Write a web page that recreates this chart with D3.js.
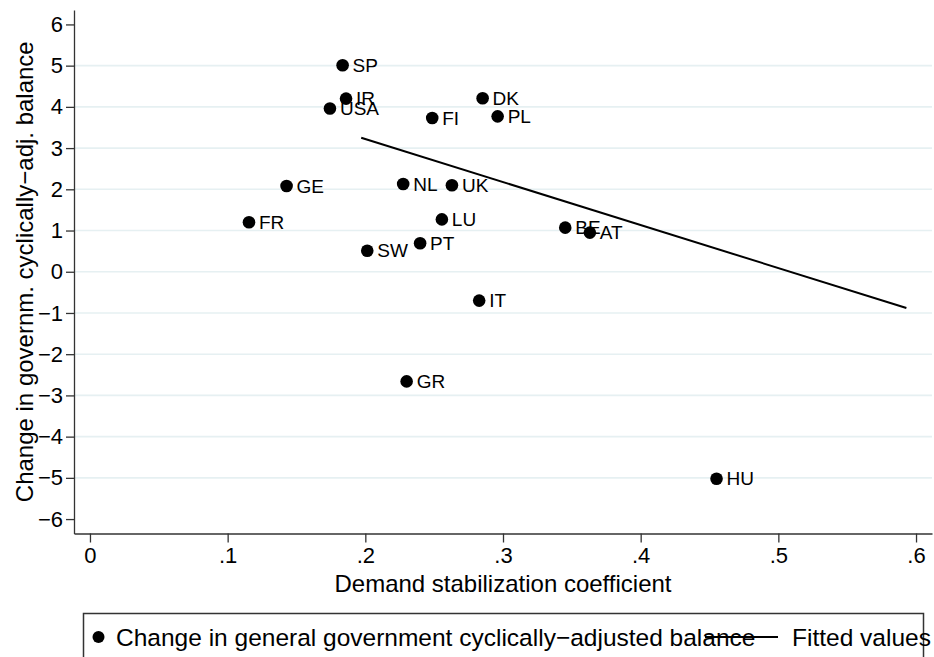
<!DOCTYPE html>
<html>
<head>
<meta charset="utf-8">
<script src="https://cdn.jsdelivr.net/npm/d3@7"></script>
<style>
  body { margin: 0; background: #fff; }
  text { font-family: "Liberation Sans", Arial, sans-serif; fill: #000; }
</style>
</head>
<body>
<div id="chart"></div>
<script>
// countries and their values
let countries = ["SP", "IR", "USA", "FI", "DK", "PL", "GE", "NL", "UK", "FR", "LU", "BE", "AT", "SW", "PT", "IT", "GR", "HU"]
let stabCoef = [0.1835, 0.186, 0.1743, 0.2486, 0.2852, 0.2961, 0.1428, 0.2275, 0.2629, 0.1155, 0.2556, 0.3452, 0.3631, 0.2014, 0.2398, 0.2827, 0.230, 0.4551]
let balance = [5.01, 4.20, 3.96, 3.73, 4.21, 3.77, 2.08, 2.13, 2.10, 1.20, 1.27, 1.07, 0.95, 0.51, 0.69, -0.70, -2.66, -5.02]

// fitted line ends
let fitX = [0.197, 0.593]
let fitY = [3.25, -0.88]

let xTicks = [0, 0.1, 0.2, 0.3, 0.4, 0.5, 0.6]
let yTicks = [-6, -5, -4, -3, -2, -1, 0, 1, 2, 3, 4, 5, 6]
let gridVals = [-5, -4, -3, -2, -1, 0, 1, 2, 3, 4, 5]

let data = countries.map((c, i) => ({ name: c, x: stabCoef[i], y: balance[i] }))
let fit = fitX.map((v, i) => ({ x: v, y: fitY[i] }))

let svgW = 934
let svgH = 657

let x = d3.scaleLinear()
  .domain([-0.0116, 0.6116])
  .range([74, 932])

let y = d3.scaleLinear()
  .domain([-6.35, 6.35])
  .range([533.5, 10])

let svg = d3.select("#chart")
  .append("svg")
  .attr("width", svgW)
  .attr("height", svgH)

// grid
svg.append("g")
  .selectAll("line")
  .data(gridVals)
  .enter()
  .append("line")
  .attr("x1", x.range()[0])
  .attr("x2", x.range()[1])
  .attr("y1", d => y(d))
  .attr("y2", d => y(d))
  .attr("stroke", "#e6f0f2")
  .attr("stroke-width", 1.6)

let xAxis = d3.axisBottom(x)
  .tickValues(xTicks)
  .tickSize(9)
  .tickSizeOuter(0)
  .tickPadding(5)
  .tickFormat(d => d === 0 ? "0" : d3.format(".1f")(d).replace(/^0/, ""))

let yAxis = d3.axisLeft(y)
  .tickValues(yTicks)
  .tickSize(8)
  .tickSizeOuter(0)
  .tickPadding(3)
  .tickFormat(d3.format("d"))

svg.append("g")
  .attr("class", "x axis")
  .attr("transform", `translate(0, ${y.range()[0]})`)
  .call(xAxis)

svg.append("g")
  .attr("class", "y axis")
  .attr("transform", `translate(${x.range()[0]}, 0)`)
  .call(yAxis)

svg.selectAll(".axis path, .axis line")
  .attr("stroke", "#333")
  .attr("stroke-width", 1.3)
svg.selectAll(".axis text")
  .attr("font-family", "Liberation Sans, Arial, sans-serif")
  .attr("font-size", 22)
  .attr("fill", "#000")

// axis titles
svg.append("text")
  .attr("x", (x.range()[0] + x.range()[1]) / 2)
  .attr("y", 592)
  .attr("text-anchor", "middle")
  .attr("font-size", 24)
  .text("Demand stabilization coefficient")

svg.append("text")
  .attr("transform", `translate(33, ${(y.range()[0] + y.range()[1]) / 2}) rotate(-90)`)
  .attr("text-anchor", "middle")
  .attr("font-size", 24)
  .text("Change in governm. cyclically\u2212adj. balance")

// fitted line
let line = d3.line()
  .x(d => x(d.x))
  .y(d => y(d.y))

svg.append("path")
  .datum(fit)
  .attr("d", line)
  .attr("fill", "none")
  .attr("stroke", "#000")
  .attr("stroke-width", 2)

// points
svg.append("g")
  .selectAll("circle")
  .data(data)
  .enter()
  .append("circle")
  .attr("cx", d => x(d.x))
  .attr("cy", d => y(d.y))
  .attr("r", 6.3)
  .attr("fill", "#000")

svg.append("g")
  .selectAll("text")
  .data(data)
  .enter()
  .append("text")
  .attr("x", d => x(d.x) + 10)
  .attr("y", d => y(d.y))
  .attr("dy", "0.35em")
  .attr("font-size", 19)
  .text(d => d.name)

// legend
let leg = svg.append("g")

leg.append("rect")
  .attr("x", 83.5)
  .attr("y", 613.5)
  .attr("width", 840)
  .attr("height", 80)
  .attr("fill", "#fff")
  .attr("stroke", "#333")
  .attr("stroke-width", 1.5)

leg.append("circle")
  .attr("cx", 98.5)
  .attr("cy", 637)
  .attr("r", 6)
  .attr("fill", "#000")

leg.append("text")
  .attr("x", 116)
  .attr("y", 637)
  .attr("dy", "0.35em")
  .attr("font-size", 24.5)
  .text("Change in general government cyclically\u2212adjusted balance")

leg.append("line")
  .attr("x1", 705)
  .attr("x2", 778)
  .attr("y1", 637)
  .attr("y2", 637)
  .attr("stroke", "#000")
  .attr("stroke-width", 2)

leg.append("text")
  .attr("x", 792)
  .attr("y", 637)
  .attr("dy", "0.35em")
  .attr("font-size", 24.5)
  .text("Fitted values")
</script>
</body>
</html>
